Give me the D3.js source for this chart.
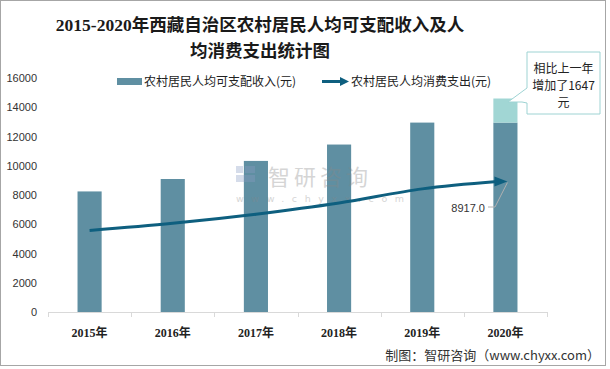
<!DOCTYPE html>
<html><head><meta charset="utf-8">
<script src="https://cdn.jsdelivr.net/npm/d3@7"></script>
<style>body{margin:0;background:#fff}svg{display:block}</style>
</head><body>
<svg id="c" width="610" height="369"></svg>
<script>
const years = ["2015年","2016年","2017年","2018年","2019年","2020年"];
const income = [8244, 9094, 10330, 11450, 12951, 14598];
const consumption = [5580, 6070, 6691, 7452, 8418, 8917];
const yTicks = [0,2000,4000,6000,8000,10000,12000,14000,16000];
const legendNames = ["农村居民人均可支配收入(元)","农村居民人均消费支出(元)"];
const titleLines = ["2015-2020年西藏自治区农村居民人均可支配收入及人","均消费支出统计图"];
const annotation = ["相比上一年","增加了1647","元"];
const source = "制图：智研咨询（www.chyxx.com）";

const svg = d3.select("#c");
const cjk = "'Noto Sans CJK SC','Noto Sans',sans-serif";
const serif = "'Liberation Serif','DejaVu Serif','Noto Sans CJK SC',serif";
const barColor = "#5f8fa2", lineColor = "#0e5f7f", lightColor = "#a1d6d4";

svg.append("rect").attr("x",0.5).attr("y",0.5).attr("width",605).attr("height",365)
  .attr("fill","#fff").attr("stroke","#a6a6a6");

// title
svg.selectAll("text.title").data(titleLines).enter().append("text")
  .attr("x",260).attr("y",(d,i)=>31+i*26).attr("text-anchor","middle")
  .attr("font-family",serif).attr("font-weight","bold").attr("font-size",17.5).attr("fill","#1a1a1a")
  .text(d=>d);

const x = d3.scaleBand().domain(years).range([48,547]).paddingInner(0.71).paddingOuter(0.355);
const y = d3.scaleLinear().domain([0,16000]).range([312,78]);

// y axis labels
svg.selectAll("text.yt").data(yTicks).enter().append("text")
  .attr("x",37).attr("y",d=>y(d)+4).attr("text-anchor","end")
  .attr("font-family","'Liberation Sans',Arial,sans-serif").attr("font-size",11).attr("fill","#333")
  .text(d=>d);

// bars
const li = years.length-1;
svg.selectAll("rect.bar").data(years).enter().append("rect")
  .attr("x",d=>x(d)).attr("width",x.bandwidth())
  .attr("y",(d,i)=> i===li ? y(income[i-1]) : y(income[i]))
  .attr("height",(d,i)=> i===li ? y(0)-y(income[i-1]) : y(0)-y(income[i]))
  .attr("fill",barColor);
// increase part of last bar
svg.append("rect").attr("x",x(years[li])).attr("width",x.bandwidth())
  .attr("y",y(income[li])).attr("height",y(income[li-1])-y(income[li])).attr("fill",lightColor);

// x axis
const xa = svg.append("g");
xa.append("line").attr("x1",48).attr("x2",547).attr("y1",312.5).attr("y2",312.5).attr("stroke","#d9d9d9");
const bounds = years.map(d=>x(d)-x.step()*x.paddingInner()/2).concat([547]);
xa.selectAll("line.tk").data(bounds).enter().append("line")
  .attr("x1",d=>Math.round(d)+0.5).attr("x2",d=>Math.round(d)+0.5).attr("y1",312).attr("y2",317).attr("stroke","#d9d9d9");
svg.selectAll("text.xl").data(years).enter().append("text")
  .attr("x",d=>x(d)+x.bandwidth()/2).attr("y",337).attr("text-anchor","middle")
  .attr("font-family",serif).attr("font-weight","bold").attr("font-size",12).attr("fill","#222")
  .text(d=>d);

// watermark (on top of bars, semi transparent)
const wm = svg.append("g").attr("opacity",0.35);
wm.append("rect").attr("x",236).attr("y",166).attr("width",7).attr("height",7).attr("fill","#8a9cc4");
wm.append("rect").attr("x",245).attr("y",166).attr("width",10).attr("height",7).attr("fill","#8a9cc4");
wm.append("rect").attr("x",236).attr("y",175).attr("width",19).attr("height",7).attr("fill","#8a9cc4");
wm.append("text").attr("x",268).attr("y",185).attr("font-family",cjk).attr("font-size",22).attr("fill","#888").attr("letter-spacing",4).text("智研咨询");
wm.append("text").attr("x",236).attr("y",202).attr("font-family","'DejaVu Sans',sans-serif").attr("font-size",9.5).attr("fill","#888").attr("letter-spacing",7.6).text("www.chyxx.com");

// line
const cx = d=>x(d)+x.bandwidth()/2;
const pts = years.map((d,i)=>[cx(d), y(consumption[i])]);
pts[li][0] -= 8;
svg.append("path").attr("d",d3.line().curve(d3.curveCatmullRom.alpha(0.5))(pts))
  .attr("fill","none").attr("stroke",lineColor).attr("stroke-width",3);
// arrow head
const pe = [cx(years[li])+2, y(consumption[li])];
const ang = Math.atan2(pe[1]-pts[li][1], pe[0]-pts[li][0]) || 0;
const ah = d3.path();
const L=13, W=5;
ah.moveTo(pe[0],pe[1]);
ah.lineTo(pe[0]-L*Math.cos(ang)+W*Math.sin(ang), pe[1]-L*Math.sin(ang)-W*Math.cos(ang));
ah.lineTo(pe[0]-L*Math.cos(ang)-W*Math.sin(ang), pe[1]-L*Math.sin(ang)+W*Math.cos(ang));
ah.closePath();
svg.append("path").attr("d",ah.toString()).attr("fill",lineColor);

// data label for last point
svg.append("path").attr("d",`M${pe[0]},${pe[1]+1} L495,207 L488,207`).attr("fill","none").attr("stroke","#b0b0b0");
svg.append("text").attr("x",485).attr("y",212).attr("text-anchor","end")
  .attr("font-family","'Liberation Sans',Arial,sans-serif").attr("font-size",11).attr("fill","#333")
  .text(consumption[li].toFixed(1));

// legend
svg.append("rect").attr("x",117).attr("y",78).attr("width",25).attr("height",7).attr("fill",barColor);
svg.append("text").attr("x",144).attr("y",86).attr("font-family",cjk).attr("font-size",12).attr("fill","#222").text(legendNames[0]);
svg.append("line").attr("x1",322).attr("x2",342).attr("y1",81.5).attr("y2",81.5).attr("stroke",lineColor).attr("stroke-width",3);
svg.append("path").attr("d","M349,81.5 L340,77 L340,86 Z").attr("fill",lineColor);
svg.append("text").attr("x",351).attr("y",86).attr("font-family",cjk).attr("font-size",12).attr("fill","#222").text(legendNames[1]);

// annotation callout
const bx=527, by=52, bw=73, bh=62;
svg.append("path")
  .attr("d",`M${bx},${by} H${bx+bw} V${by+bh} H${bx} V103 L522,102 L508,102 L${bx},88 Z`)
  .attr("fill","#fff").attr("stroke","#9ed3d3").attr("stroke-width",1);
svg.selectAll("text.ann").data(annotation).enter().append("text")
  .attr("x",bx+bw/2).attr("y",(d,i)=>by+21+i*17).attr("text-anchor","middle")
  .attr("font-family",cjk).attr("font-size",12).attr("fill","#222").text(d=>d);

// source
svg.append("text").attr("x",600).attr("y",360).attr("text-anchor","end")
  .attr("font-family",cjk).attr("font-size",13).attr("fill","#333").text(source);
</script>
</body></html>
